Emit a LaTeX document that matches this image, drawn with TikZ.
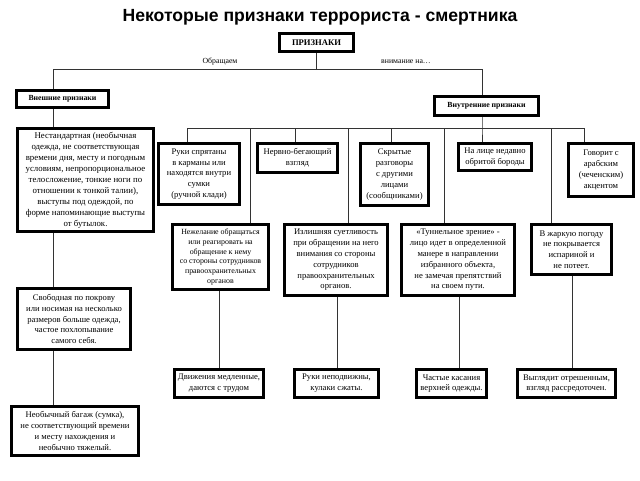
\documentclass[tikz,border=0pt]{standalone}
\usepackage{fontspec}
\setmainfont{Liberation Serif}
\newfontfamily\titlefont{Liberation Sans}
\tikzset{
  box/.style={draw=black, line width=2.8pt, fill=white, align=center, inner sep=1pt,
    font=\fontsize{8.6}{10.8}\selectfont},
  link/.style={draw=black!80, line width=0.7pt},
  note/.style={font=\fontsize{7.8}{9}\selectfont}
}
\begin{document}
\begin{tikzpicture}[x=1pt, y=-1pt]
	\useasboundingbox (0,0) rectangle (640,480);
	\node (title) at (320,17) {\titlefont\bfseries\fontsize{17.6}{19}\selectfont Некоторые признаки террориста - смертника};
	% top level
	\node[box, minimum width=74, minimum height=18] (priz) at (316.5,42.5) {\bfseries ПРИЗНАКИ};
	\node[note] (obr) at (220,62) {Обращаем};
	\node[note] (vnim) at (406,62) {внимание на…};
	\node[box, minimum width=92, minimum height=17, font=\fontsize{7.8}{9}\selectfont\bfseries] (vnesh) at (62.5,99) {Внешние признаки};
	\node[box, minimum width=104, minimum height=19, font=\fontsize{7.8}{9}\selectfont\bfseries] (vnutr) at (486.5,106) {Внутренние признаки};
	% external features
	\node[box, minimum width=136, minimum height=103, font=\fontsize{8.8}{11}\selectfont] (nest) at (85.5,180) {Нестандартная (необычная\\одежда, не соответствующая\\времени дня, месту и погодным\\условиям, непропорциональное\\телосложение, тонкие ноги по\\отношении к тонкой талии),\\выступы под одеждой, по\\форме напоминающие выступы\\от бутылок.};
	\node[box, minimum width=113, minimum height=61] (svob) at (74,319) {Свободная по покрову\\или носимая на несколько\\размеров больше одежда,\\частое похлопывание\\самого себя.};
	\node[box, minimum width=127, minimum height=49] (neob) at (75,431) {Необычный багаж (сумка),\\не соответствующий времени\\и месту нахождения и\\необычно тяжелый.};
	% internal features, first row
	\node[box, minimum width=81, minimum height=61] (r1) at (199,174) {Руки спрятаны\\в карманы или\\находятся внутри\\сумки\\(ручной клади)};
	\node[box, minimum width=80, minimum height=29] (r2) at (297.5,158) {Нервно-бегающий\\взгляд};
	\node[box, minimum width=68, minimum height=62] (r3) at (394.5,174.5) {Скрытые\\разговоры\\с другими\\лицами\\(сообщниками)};
	\node[box, minimum width=73, minimum height=27] (r4) at (495,157) {На лице недавно\\обритой бороды};
	\node[box, minimum width=65, minimum height=53] (r5) at (601,170) {Говорит с\\арабским\\(чеченским)\\акцентом};
	% second row
	\node[box, minimum width=96, minimum height=65, font=\fontsize{7.9}{9.9}\selectfont] (s6) at (220.5,257) {Нежелание обращаться\\или реагировать на\\обращение к нему\\со стороны сотрудников\\правоохранительных\\органов};
	\node[box, minimum width=103, minimum height=71] (s7) at (336,260) {Излишняя суетливость\\при обращении на него\\внимания со стороны\\сотрудников\\правоохранительных\\органов.};
	\node[box, minimum width=113, minimum height=71] (s8) at (458,260) {«Туннельное зрение» -\\лицо идет в определенной\\манере в направлении\\избранного объекта,\\не замечая препятствий\\на своем пути.};
	\node[box, minimum width=80, minimum height=50] (s9) at (571.5,249.5) {В жаркую погоду\\не покрывается\\испариной и\\не потеет.};
	% third row
	\node[box, minimum width=89, minimum height=28] (t10) at (219,383.5) {Движения медленные,\\даются с трудом};
	\node[box, minimum width=84, minimum height=28] (t11) at (336.5,383.5) {Руки неподвижны,\\кулаки сжаты.};
	\node[box, minimum width=70, minimum height=28] (t12) at (451.5,383.5) {Частые касания\\верхней одежды.};
	\node[box, minimum width=98, minimum height=28] (t13) at (566.5,383.5) {Выглядит отрешенным,\\взгляд рассредоточен.};
	% bus points
	\coordinate (top) at (316.5,69);
	\coordinate (lft) at (53,69);
	\coordinate (rgt) at (482,69);
	\coordinate (ib) at (482,128);
	\coordinate (d1) at (187,128);
	\coordinate (d2) at (295,128);
	\coordinate (d3) at (391,128);
	\coordinate (d4) at (584,128);
	\coordinate (l6) at (250,128);
	\coordinate (l7) at (348,128);
	\coordinate (l8) at (444,128);
	\coordinate (l9) at (551,128);
	\coordinate (b6) at (219,300);
	\coordinate (b7) at (337,300);
	\coordinate (b8) at (459,300);
	\coordinate (b9) at (572,300);
	% connectors
	\draw[link] (priz.south) -- (top);
	\draw[link] (lft) -- (rgt);
	\draw[link] (lft) -- (lft |- vnesh.north);
	\draw[link] (rgt) -- (rgt |- vnutr.north);
	\draw[link] (lft |- vnesh.south) -- (lft |- nest.north);
	\draw[link] (lft |- nest.south) -- (lft |- svob.north);
	\draw[link] (lft |- svob.south) -- (lft |- neob.north);
	\draw[link] (ib |- vnutr.south) -- (ib) -- (ib |- r4.north);
	\draw[link] (d1) -- (d4);
	\draw[link] (d1) -- (d1 |- r1.north);
	\draw[link] (d2) -- (d2 |- r2.north);
	\draw[link] (d3) -- (d3 |- r3.north);
	\draw[link] (d4) -- (d4 |- r5.north);
	\draw[link] (l6) -- (l6 |- s6.north);
	\draw[link] (l7) -- (l7 |- s7.north);
	\draw[link] (l8) -- (l8 |- s8.north);
	\draw[link] (l9) -- (l9 |- s9.north);
	\draw[link] (b6 |- s6.south) -- (b6 |- t10.north);
	\draw[link] (b7 |- s7.south) -- (b7 |- t11.north);
	\draw[link] (b8 |- s8.south) -- (b8 |- t12.north);
	\draw[link] (b9 |- s9.south) -- (b9 |- t13.north);
\end{tikzpicture}
\end{document}
